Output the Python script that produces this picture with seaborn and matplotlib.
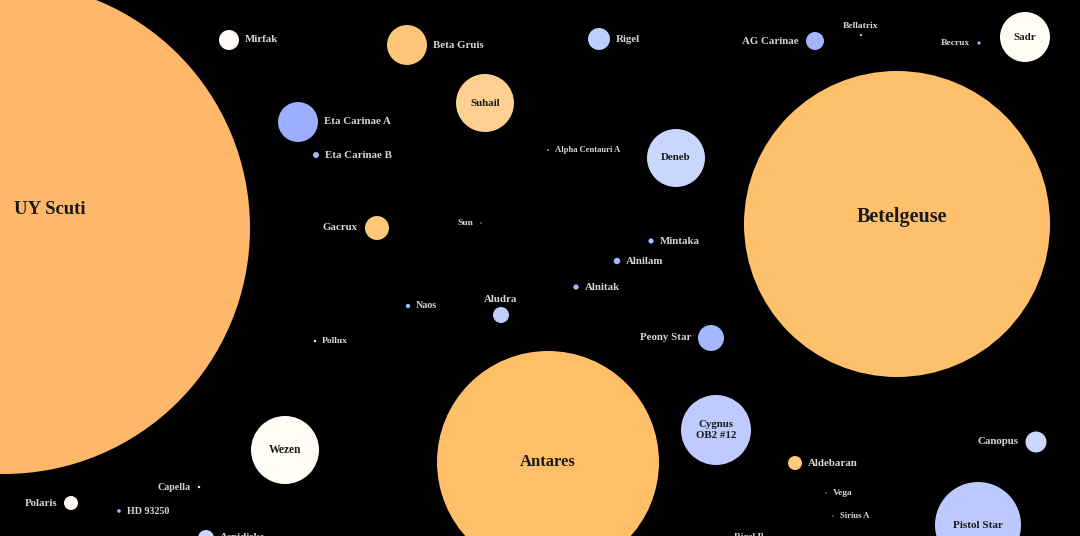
# Star size comparison - bubble chart of well known stars
import numpy as np
import pandas as pd
import matplotlib
matplotlib.use("Agg")
import matplotlib.pyplot as plt
import seaborn as sns

# star data (position on the canvas, radius in pixels, colour)
names = ["UY Scuti", "Betelgeuse", "Antares", "Pistol Star", "Cygnus\nOB2 #12",
         "Wezen", "Sadr", "Deneb", "Suhail", "Beta Gruis", "Rigel", "Mirfak",
         "Eta Carinae A", "Eta Carinae B", "AG Carinae", "Bellatrix", "Becrux",
         "Alpha Centauri A", "Gacrux", "Sun", "Mintaka", "Alnilam", "Alnitak",
         "Naos", "Aludra", "Pollux", "Peony Star", "Canopus", "Aldebaran",
         "Vega", "Sirius A", "Rigel B", "Capella", "Polaris", "HD 93250", "Aspidiske"]
pos_x = [4, 897, 548, 978, 716, 285, 1025, 676, 485, 407, 599, 229,
         298, 316, 815, 861, 979, 548, 377, 481, 651, 617, 576,
         408, 501, 315, 711, 1036, 795, 826, 833, 727, 199, 71, 119, 206]
pos_y = [228, 224, 462, 525, 430, 450, 37, 158, 103, 45, 39, 40,
         122, 155, 41, 35, 43, 150, 228, 223, 241, 261, 287,
         306, 315, 341, 338, 442, 463, 493, 516, 537, 487, 503, 511, 538]
radius = [246, 153, 111, 43, 35, 34, 25, 29, 29, 20, 11, 10,
          20, 3, 9, 1.2, 1.6, 0.8, 12, 0.6, 2.6, 3.2, 2.6,
          2.2, 8, 1.2, 13, 10.5, 7, 0.6, 0.6, 0.8, 1.2, 7, 1.8, 8]
colors = ["#ffb76a", "#ffc06b", "#ffbf68", "#bcc9ff", "#bfcbff",
          "#fffdf6", "#fffcf5", "#cad7ff", "#ffd08f", "#ffc67a", "#bccfff", "#fffcf5",
          "#9baeff", "#9fb3ff", "#a0b4ff", "#a9bcff", "#a9bcff",
          "#fff4e6", "#ffc97a", "#fff2d0", "#a9bcff", "#a4b8ff", "#a9bcff",
          "#a4b8ff", "#c0cfff", "#fff0dc", "#a5b8ff", "#cbd7ff", "#ffc97a",
          "#e8ecff", "#eef0ff", "#c0cfff", "#fff4e6", "#fffcf5", "#a4b8ff", "#c9d6ff"]
# label placement: c = inside, r = right, l = left, t = above
label_side = ["c", "c", "c", "c", "c", "c", "c", "c", "c", "r", "r", "r",
              "r", "r", "l", "t", "l", "r", "l", "l", "r", "r", "r",
              "r", "t", "r", "l", "l", "r", "r", "r", "r", "l", "l", "r", "r"]
label_size = [13.5, 14.5, 12, 8, 7.8, 8.3, 7.8, 7.8, 7.8, 7.8, 7.8, 7.8,
              7.8, 7.8, 7.8, 6.8, 6.8, 6.2, 7.8, 6.8, 7.8, 7.8, 7.8,
              7.2, 7.8, 6.8, 7.8, 7.8, 7.8, 6.8, 6.2, 6.8, 7.2, 7.8, 7.2, 7.8]

df = pd.DataFrame({"name": names, "x": pos_x, "y": pos_y, "r": radius})

fig = plt.figure(figsize=(10.8, 5.36), dpi=100, facecolor="black")
ax = fig.add_axes([0, 0, 1, 1])
ax.set_facecolor("black")

# marker size: radius px -> diameter in points, squared
sizes = (2 * df["r"] * 72 / 100) ** 2
sns.scatterplot(data=df, x="x", y="y", hue="name", palette=dict(zip(names, colors)),
                s=sizes, linewidth=0, legend=False, ax=ax)

ax.set_xlim(0, 1080)
ax.set_ylim(536, 0)
ax.axis("off")

font = "Liberation Serif"
for i, row in df.iterrows():
    side = label_side[i]
    r = row["r"]
    if side == "c":
        dx, dy, ha, col = 0, 0, "center", "#1a1a1a"
        if row["name"] == "UY Scuti":
            dx, dy, ha = 10, 19, "left"
        if row["name"] == "Betelgeuse":
            dx, dy = 5, 7
    elif side == "r":
        dx, dy, ha, col = r + 6, 0, "left", "#d6d6d6"
    elif side == "l":
        dx, dy, ha, col = -(r + 7), 0, "right", "#d6d6d6"
    else:
        dx, dy, ha, col = 0, r + 8, "center", "#d6d6d6"
    ax.annotate(row["name"], (row["x"], row["y"]), xytext=(dx, dy),
                textcoords="offset pixels", ha=ha, va="center",
                fontsize=label_size[i], fontweight="bold", family=font,
                color=col, linespacing=1.25, annotation_clip=False)

fig.savefig("out.png", dpi=100, facecolor="black")
